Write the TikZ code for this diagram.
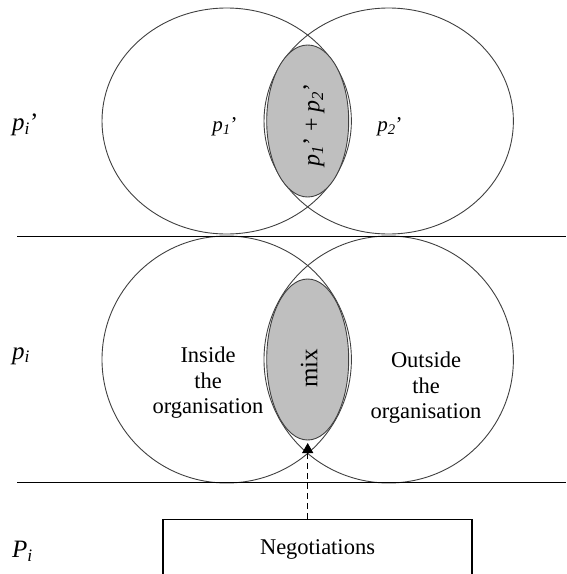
\documentclass[tikz,border=0pt]{standalone}
\usepackage{fontspec}
\setmainfont{Liberation Serif}
\usetikzlibrary{arrows.meta}

\tikzset{
  ring/.style={draw=black!75, line width=0.9pt},
  lens/.style={draw=black!75, line width=0.9pt, fill=black!25},
  band/.style={line width=1.1pt},
  lbl/.style={font=\fontsize{22.5}{25.5}\selectfont, align=center, inner sep=0pt},
  level/.style={font=\fontsize{25}{25}\selectfont, inner sep=0pt, anchor=west},
  negbox/.style={draw, line width=1.1pt, minimum width=309pt, minimum height=60pt,
    anchor=north, font=\fontsize{22.5}{22.5}\selectfont}
}
\newcommand{\psub}[2]{\textit{#1}\textsubscript{\textit{#2}}}

\begin{document}
\begin{tikzpicture}[x=1pt, y=-1pt]
\clip (0,0) rectangle (566,574);
% top pair
\draw[ring] (226.7,121) ellipse [x radius=124.7pt, y radius=113pt];
\draw[ring] (388.7,121) ellipse [x radius=124.7pt, y radius=113pt];
\draw[lens] (307.7,121) ellipse [x radius=41pt, y radius=76pt];
% bottom pair
\draw[ring] (226.7,359.5) ellipse [x radius=124.7pt, y radius=123.5pt];
\draw[ring] (388.7,359.5) ellipse [x radius=124.7pt, y radius=123.5pt];
\draw[lens] (307.7,359.5) ellipse [x radius=41pt, y radius=80.5pt];
% levels
\draw[band] (17,236.7) -- (566,236.7);
\draw[band] (17,482.7) -- (566,482.7);

\node[level] (lvltop) at (12,125) {\psub{p}{i}’};
\node[level] (lvlmid) at (12,356) {\psub{p}{i}};
\node[level] (lvlbot) at (12,551) {\psub{P}{i}};

\node[lbl, font=\fontsize{21}{21}\selectfont] (pone) at (225,127) {\psub{p}{1}’};
\node[lbl, font=\fontsize{21}{21}\selectfont] (ptwo) at (390,127) {\psub{p}{2}’};
\node[lbl, font=\fontsize{24}{24}\selectfont, rotate=90] (psum) at (314,125) {\psub{p}{1}’ + \psub{p}{2}’};

\node[lbl] (inside) at (208,383) {Inside\\the\\organisation};
\node[lbl] (outside) at (426,388) {Outside\\the\\organisation};
\node[lbl, font=\fontsize{25}{25}\selectfont, rotate=90] (mix) at (309,368) {mix};

\node[negbox] (neg) at (317.5,519) {Negotiations};
\coordinate (tip) at (307.7,443);
\draw[line width=1pt, dash pattern=on 6pt off 4pt, -{Triangle[width=11pt, length=10pt]}]
  (neg.north -| tip) -- (tip);
\end{tikzpicture}
\end{document}
